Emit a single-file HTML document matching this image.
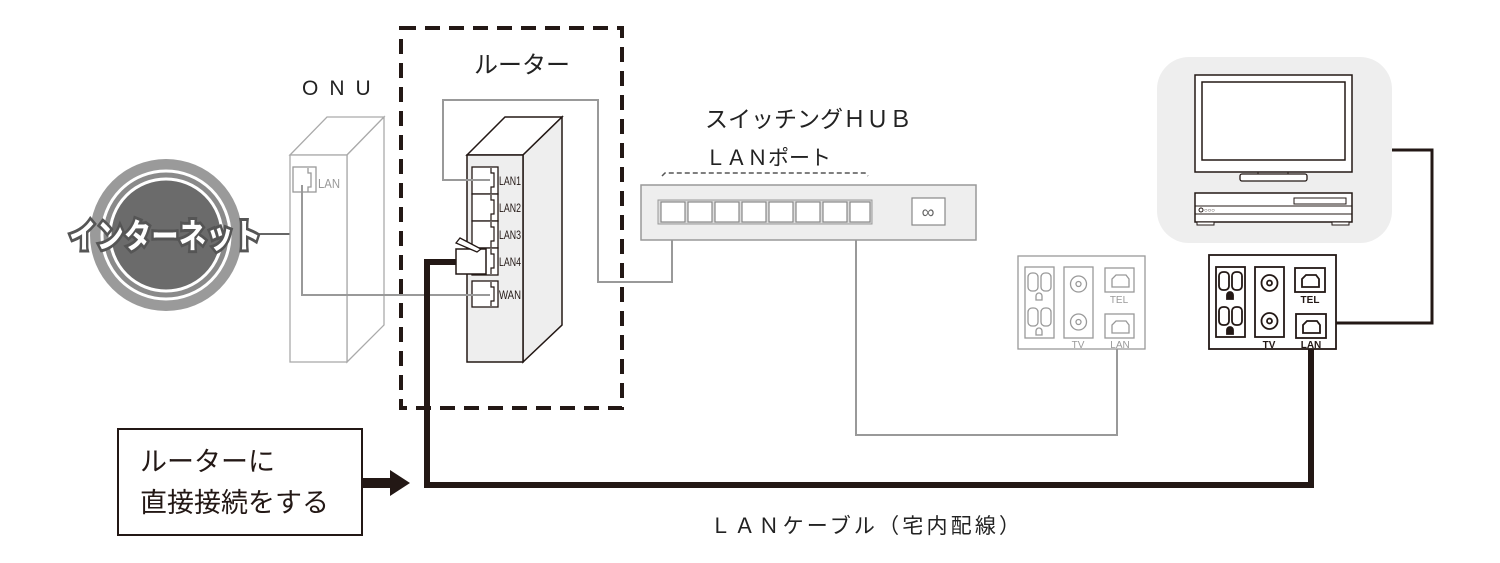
<!DOCTYPE html>
<html><head><meta charset="utf-8"><style>
html,body{margin:0;padding:0;background:#fff;}
svg{display:block;}
text{font-family:"Liberation Sans","Noto Sans CJK JP",sans-serif;}
</style></head><body>
<svg width="1500" height="563" viewBox="0 0 1500 563" xmlns="http://www.w3.org/2000/svg">
<!-- Internet -->
<circle cx="166" cy="235" r="76" fill="#9a9a9a"/>
<circle cx="166" cy="235" r="64" fill="#8a8a8a" stroke="#fff" stroke-width="3"/>
<circle cx="166" cy="235" r="56" fill="#6b6b6b" stroke="#fff" stroke-width="3"/>
<line x1="258" y1="234" x2="291" y2="234" stroke="#333" stroke-width="1.5"/>
<text x="165" y="248" text-anchor="middle" font-size="34" font-weight="bold" fill="#fff" stroke="#555" stroke-width="6" paint-order="stroke" textLength="192" lengthAdjust="spacingAndGlyphs">インターネット</text>

<!-- ONU -->
<text x="302" y="95" font-size="21" fill="#222" letter-spacing="11">ONU</text>
<g fill="#fff" stroke="#aaa" stroke-width="1.3">
<polygon points="290,155 327,117 384,117 347,155"/>
<polygon points="347,155 384,117 384,325 347,362"/>
<rect x="290" y="155" width="57" height="207"/>
</g>
<rect x="293" y="167" width="23" height="25" fill="#fff" stroke="#999" stroke-width="1.3"/>
<path d="M308,168 v5 h3 v14 h-3 v5" fill="none" stroke="#999" stroke-width="1.3"/>
<text x="318" y="188" font-size="13" fill="#999" textLength="22" lengthAdjust="spacingAndGlyphs">LAN</text>

<!-- Router dashed box -->
<rect x="401" y="28" width="221" height="380" fill="none" stroke="#231815" stroke-width="4" stroke-dasharray="15,9"/>
<text x="474" y="73" font-size="24" fill="#222">ルーター</text>
<g stroke="#231815" stroke-width="1.5">
<polygon points="467,155 505,117 562,117 523,155" fill="#fff"/>
<polygon points="523,155 562,117 562,325 523,362" fill="#eee"/>
<rect x="467" y="155" width="56" height="207" fill="#eee"/>
</g>
<g fill="#fff" stroke="#231815" stroke-width="1.3">
<rect x="472" y="167" width="26" height="27"/>
<rect x="472" y="194" width="26" height="27"/>
<rect x="472" y="221" width="26" height="27"/>
<rect x="472" y="248" width="26" height="27"/>
<rect x="472" y="281" width="26" height="26"/>
</g>
<g fill="none" stroke="#231815" stroke-width="1.2">
<path d="M491,168 v5 h3 v14 h-3 v6"/><path d="M491,195 v5 h3 v14 h-3 v6"/>
<path d="M491,222 v5 h3 v14 h-3 v6"/><path d="M491,249 v5 h3 v14 h-3 v6"/>
<path d="M491,282 v5 h3 v14 h-3 v5"/>
</g>
<g font-size="12" fill="#231815">
<text x="499" y="185" textLength="22" lengthAdjust="spacingAndGlyphs">LAN1</text>
<text x="499" y="212" textLength="22" lengthAdjust="spacingAndGlyphs">LAN2</text>
<text x="499" y="239" textLength="22" lengthAdjust="spacingAndGlyphs">LAN3</text>
<text x="499" y="266" textLength="22" lengthAdjust="spacingAndGlyphs">LAN4</text>
<text x="499" y="299" textLength="22" lengthAdjust="spacingAndGlyphs">WAN</text>
</g>

<!-- gray cables -->
<g fill="none" stroke="#999" stroke-width="2">
<path d="M302,185 V295 H490"/>
<path d="M490,180 H443 V100 H598 V282 H672 V208"/>
<path d="M856,208 V435 H1117 V345"/>
</g>

<!-- black cable and plug -->
<path d="M458,262 H427 V485 H1311 V345" fill="none" stroke="#231815" stroke-width="6"/>
<rect x="456" y="249" width="30" height="25" fill="#fff" stroke="#231815" stroke-width="1.5"/>
<polygon points="456,243 460,238 481,249 477,252" fill="#fff" stroke="#231815" stroke-width="1.3"/>

<!-- HUB -->
<text x="705" y="127" font-size="23" fill="#222">スイッチングＨＵＢ</text>
<text x="705" y="165" font-size="21" fill="#222">ＬＡＮポート</text>
<path d="M662,176 l3,-3 H865 l3,3" fill="none" stroke="#555" stroke-width="1.5" stroke-dasharray="5,3"/>
<rect x="641" y="185" width="335" height="55" fill="#eee" stroke="#999" stroke-width="1.5"/>
<rect x="658" y="200" width="214" height="24" fill="#ddd" stroke="#999" stroke-width="1"/>
<g fill="#fff" stroke="#888" stroke-width="1.2">
<rect x="661" y="202" width="24" height="20"/><rect x="688" y="202" width="24" height="20"/>
<rect x="715" y="202" width="24" height="20"/><rect x="742" y="202" width="24" height="20"/>
<rect x="769" y="202" width="24" height="20"/><rect x="796" y="202" width="24" height="20"/>
<rect x="823" y="202" width="24" height="20"/><rect x="850" y="202" width="20" height="20"/>
</g>
<rect x="912" y="198" width="33" height="27" fill="#fff" stroke="#888" stroke-width="1.2"/>
<text x="928" y="218" text-anchor="middle" font-size="18" fill="#666">∞</text>

<!-- callout -->
<rect x="118" y="429" width="244" height="106" fill="#fff" stroke="#231815" stroke-width="2"/>
<text x="140" y="471" font-size="27" fill="#231815">ルーターに</text>
<text x="140" y="512" font-size="27" fill="#231815">直接接続をする</text>
<polygon points="363,478 390,478 390,470 410,483 390,496 390,488 363,488" fill="#231815"/>
<text x="710" y="533" font-size="21" fill="#222" textLength="310" lengthAdjust="spacing">ＬＡＮケーブル（宅内配線）</text>

<!-- TV group -->
<rect x="1157" y="57" width="235" height="186" rx="32" fill="#eee"/>
<rect x="1195" y="75" width="157" height="97" fill="#fff" stroke="#231815" stroke-width="1.5"/>
<rect x="1202" y="82" width="143" height="78" fill="#fff" stroke="#231815" stroke-width="1.5"/>
<path d="M1258,172 v2 h30 v-2" fill="none" stroke="#231815" stroke-width="1"/>
<rect x="1240" y="174" width="67" height="7" rx="2" fill="#fff" stroke="#231815" stroke-width="1.3"/>
<rect x="1195" y="193" width="157" height="29" fill="#fff" stroke="#231815" stroke-width="1.5"/>
<line x1="1195" y1="206" x2="1352" y2="206" stroke="#231815" stroke-width="1"/>
<line x1="1195" y1="214" x2="1352" y2="214" stroke="#231815" stroke-width="1"/>
<rect x="1294" y="198" width="52" height="6" fill="#fff" stroke="#231815" stroke-width="1"/>
<rect x="1197" y="222" width="17" height="3" fill="#fff" stroke="#231815" stroke-width="1"/>
<rect x="1332" y="222" width="17" height="3" fill="#fff" stroke="#231815" stroke-width="1"/>
<circle cx="1201" cy="210" r="2" fill="none" stroke="#231815"/>
<text x="1204" y="212" font-size="6" fill="#231815">○○○</text>
<path d="M1392,150 H1432 V323 H1312" fill="none" stroke="#231815" stroke-width="3"/>

<!-- left wall plate (gray) -->
<g transform="translate(1018,256)" fill="#fff" stroke="#999" stroke-width="1.3">
<rect x="0" y="0" width="127" height="93"/>
<rect x="7" y="11" width="29" height="71"/>
<rect x="10" y="17" width="10" height="18" rx="4"/><rect x="23" y="17" width="10" height="18" rx="4"/>
<path d="M18,44 v-4 a3,3 0 0 1 6,0 v4 z"/>
<rect x="10" y="52" width="10" height="18" rx="4"/><rect x="23" y="52" width="10" height="18" rx="4"/>
<path d="M18,79 v-4 a3,3 0 0 1 6,0 v4 z"/>
<rect x="46" y="11" width="29" height="71"/>
<circle cx="60.5" cy="28" r="8"/><circle cx="60.5" cy="28" r="2.5"/>
<circle cx="60.5" cy="66" r="8"/><circle cx="60.5" cy="66" r="2.5"/>
<rect x="87" y="12" width="29" height="24"/>
<path d="M94,31 v-8 l4,-4 h10 l3,4 v8 z"/>
<rect x="87" y="58" width="29" height="24"/>
<path d="M94,77 v-8 l4,-4 h10 l3,4 v8 z"/>
</g>
<g font-size="10" fill="#999" text-anchor="middle">
<text x="1119" y="303">TEL</text><text x="1078" y="348">TV</text><text x="1120" y="348">LAN</text>
</g>

<!-- right wall plate (black) -->
<g transform="translate(1209,255)" fill="#fff" stroke="#231815" stroke-width="1.8">
<rect x="0" y="0" width="127" height="94"/>
<rect x="7" y="12" width="29" height="70"/>
<rect x="10" y="17" width="10" height="18" rx="4"/><rect x="23" y="17" width="10" height="18" rx="4"/>
<path d="M18,44 v-4 a3,3 0 0 1 6,0 v4 z" fill="#231815"/>
<rect x="10" y="52" width="10" height="18" rx="4"/><rect x="23" y="52" width="10" height="18" rx="4"/>
<path d="M18,79 v-4 a3,3 0 0 1 6,0 v4 z" fill="#231815"/>
<rect x="46" y="12" width="29" height="70"/>
<circle cx="60.5" cy="28" r="8"/><circle cx="60.5" cy="28" r="2.5"/>
<circle cx="60.5" cy="66" r="8"/><circle cx="60.5" cy="66" r="2.5"/>
<rect x="86" y="13" width="30" height="24"/>
<path d="M93,32 v-8 l4,-4 h10 l3,4 v8 z"/>
<rect x="87" y="59" width="30" height="24"/>
<path d="M94,78 v-8 l4,-4 h10 l3,4 v8 z"/>
</g>
<g font-size="10" font-weight="bold" fill="#231815" text-anchor="middle">
<text x="1310" y="303">TEL</text><text x="1269" y="348">TV</text><text x="1311" y="348">LAN</text>
</g>
</svg>
</body></html>
